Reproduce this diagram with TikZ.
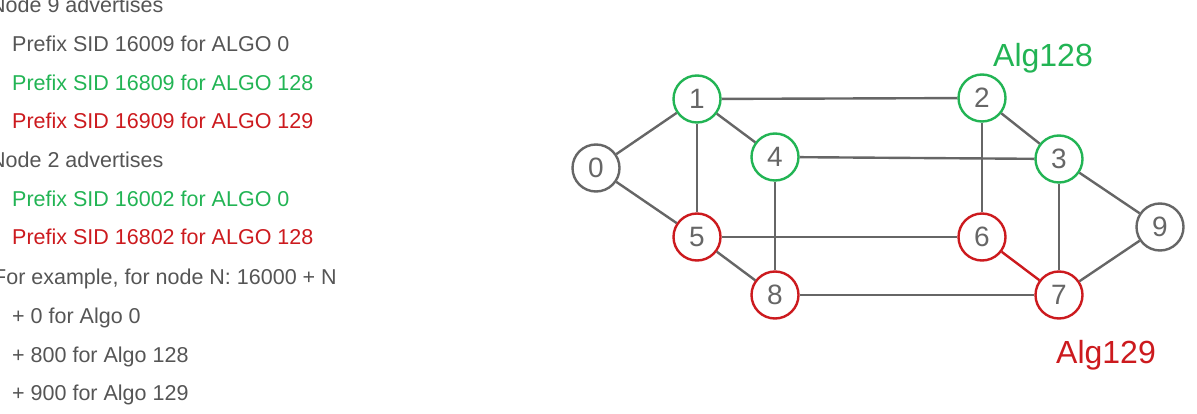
\documentclass[tikz,border=0pt]{standalone}
\usepackage{fontspec}
\setmainfont{Liberation Sans}
\usepackage{xcolor}
\usepackage{tikz}
\usetikzlibrary{positioning}

\definecolor{lgrey}{RGB}{102,102,102}
\definecolor{tgrey}{RGB}{85,85,85}
\definecolor{agreen}{RGB}{34,180,84}
\definecolor{ared}{RGB}{204,26,30}

\begin{document}
\begin{tikzpicture}[
    x=1pt, y=-1pt,
    base/.style={circle, line width=2.4pt, minimum size=47pt, inner sep=0pt,
                 text=lgrey, font=\fontsize{28}{28}\selectfont},
    Ngrey/.style= {base, draw=lgrey},
    Ngreen/.style={base, draw=agreen},
    Nred/.style=  {base, draw=ared},
    link/.style=   {line width=2.4pt, draw=lgrey},
    linkred/.style={line width=2.4pt, draw=ared},
    txt/.style={anchor=base west, inner sep=0pt, font=\fontsize{21.5}{21.5}\selectfont},
    Tgrey/.style= {txt, text=tgrey},
    Tgreen/.style={txt, text=agreen},
    Tred/.style=  {txt, text=ared},
    tag/.style={anchor=base, inner sep=0pt, font=\fontsize{32}{32}\selectfont},
]
\useasboundingbox (0,0) rectangle (1197,414);

% left column: advertised prefix SIDs
\node[Tgrey]  (n9)    at (-10,13)  {Node 9 advertises};
\node[Tgrey]  (n9a0)  at (12,52)   {Prefix SID 16009 for ALGO 0};
\node[Tgreen] (n9a1)  at (12,91)   {Prefix SID 16809 for ALGO 128};
\node[Tred]   (n9a2)  at (12,129)  {Prefix SID 16909 for ALGO 129};
\node[Tgrey]  (n2)    at (-10,168) {Node 2 advertises};
\node[Tgreen] (n2a0)  at (12,207)  {Prefix SID 16002 for ALGO 0};
\node[Tred]   (n2a1)  at (12,245)  {Prefix SID 16802 for ALGO 128};
\node[Tgrey]  (ex)    at (-7,284)  {For example, for node N: 16000 + N};
\node[Tgrey]  (ex0)   at (12,323)  {+ 0 for Algo 0};
\node[Tgrey]  (ex1)   at (12,362)  {+ 800 for Algo 128};
\node[Tgrey]  (ex2)   at (12,400)  {+ 900 for Algo 129};

% topology
\node[Ngrey]  (r0) at (596,168)  {0};
\node[Ngreen] (r1) at (697,99)   {1};
\node[Ngreen] (r2) at (982,98)   {2};
\node[Ngreen] (r3) at (1059,159) {3};
\node[Ngreen] (r4) at (775,157)  {4};
\node[Nred]   (r5) at (697,237)  {5};
\node[Nred]   (r6) at (982,237)  {6};
\node[Nred]   (r7) at (1059,295) {7};
\node[Nred]   (r8) at (775,295)  {8};
\node[Ngrey]  (r9) at (1160,227) {9};

\node[tag, text=agreen] (alg128) at (1043,67)  {Alg128};
\node[tag, text=ared]   (alg129) at (1106,363) {Alg129};

\draw[link] (r0) -- (r1);
\draw[link] (r0) -- (r5);
\draw[link] (r1) -- (r2);
\draw[link] (r1) -- (r4);
\draw[link] (r1) -- (r5);
\draw[link] (r4) -- (r3);
\draw[link] (r4) -- (r8);
\draw[link] (r5) -- (r6);
\draw[link] (r5) -- (r8);
\draw[link] (r8) -- (r7);
\draw[link] (r2) -- (r6);
\draw[link] (r2) -- (r3);
\draw[link] (r3) -- (r7);
\draw[link] (r3) -- (r9);
\draw[link] (r9) -- (r7);
\draw[linkred] (r6) -- (r7);
\end{tikzpicture}
\end{document}
